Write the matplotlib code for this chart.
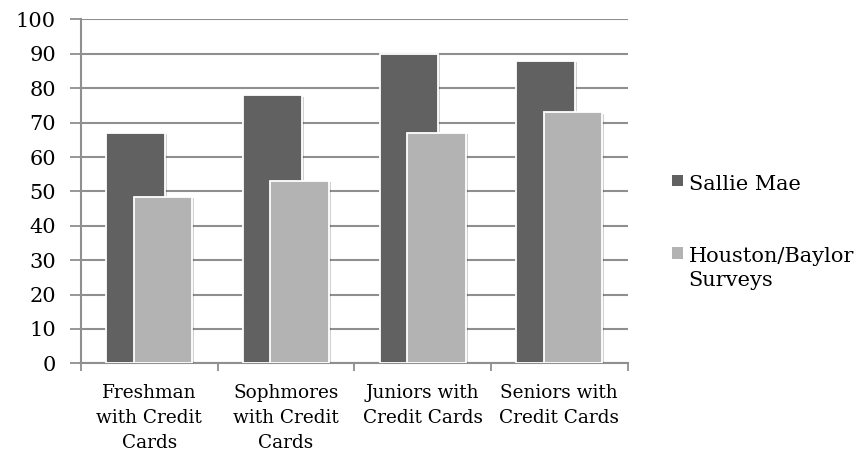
import matplotlib
matplotlib.use("Agg")
import matplotlib.pyplot as plt
import matplotlib.patheffects as pe
from matplotlib.patches import Rectangle
import numpy as np

categories = ["Freshman\nwith Credit\nCards", "Sophmores\nwith Credit\nCards",
              "Juniors with\nCredit Cards", "Seniors with\nCredit Cards"]
series_names = ["Sallie Mae", "Houston/Baylor\nSurveys"]
sallie_mae = [67, 78, 90, 88]
houston_baylor = [48.5, 53, 67, 73]
y_ticks = [0, 10, 20, 30, 40, 50, 60, 70, 80, 90, 100]

colors = ["#616161", "#b3b3b3"]
grid_color = "#8f8f8f"
font = "DejaVu Serif"

plt.rcParams["font.family"] = [font]

fig = plt.figure(figsize=(8.65, 4.53), dpi=100)
ax = fig.add_axes([0.0936, 0.198, 0.632, 0.759])

x = np.arange(len(categories))
width = 0.43
offset = 0.1
shadow = [pe.SimplePatchShadow(offset=(1.5, -1.0), shadow_rgbFace="black", alpha=0.18),
          pe.Normal()]

for i, (vals, off) in enumerate(zip([sallie_mae, houston_baylor], [-offset, offset])):
    bars = ax.bar(x + off, vals, width=width, color=colors[i], edgecolor="white",
                  linewidth=1.3, zorder=3 + i)
    for b in bars:
        b.set_path_effects(shadow)

ax.set_xlim(-0.5, len(categories) - 0.5)
ax.set_ylim(0, 100)
ax.set_yticks(y_ticks)
ax.set_yticklabels([str(t) for t in y_ticks], fontsize=15)
ax.yaxis.grid(True, color=grid_color, linewidth=1.5, zorder=0)
ax.set_axisbelow(True)

# category boundaries carry the x ticks; labels sit at the centres
ax.set_xticks(np.arange(-0.5, len(categories), 1.0))
ax.set_xticklabels([])
ax.set_xticks(x, minor=True)
ax.set_xticklabels(categories, minor=True, fontsize=13.3, linespacing=1.5)
ax.tick_params(axis="x", which="minor", length=0, pad=15)
ax.tick_params(axis="x", which="major", length=6, width=1.3, color=grid_color, direction="out")
ax.tick_params(axis="y", length=8, width=1.3, color=grid_color, direction="out", pad=10)

for side in ["top", "right"]:
    ax.spines[side].set_visible(False)
for side in ["left", "bottom"]:
    ax.spines[side].set_color(grid_color)
    ax.spines[side].set_linewidth(1.5)

# legend entries drawn beside the plot area
legend_y = [0.6015, 0.4415]
for name, col, yy in zip(series_names, colors, legend_y):
    fig.add_artist(Rectangle((0.7765, yy - 0.0122), 0.0135, 0.0244,
                             transform=fig.transFigure, facecolor=col, edgecolor="none"))
    fig.text(0.796, yy + 0.013, name, fontsize=15, va="top", ha="left",
             linespacing=1.31, color="black")

fig.savefig("out.png", dpi=100)
